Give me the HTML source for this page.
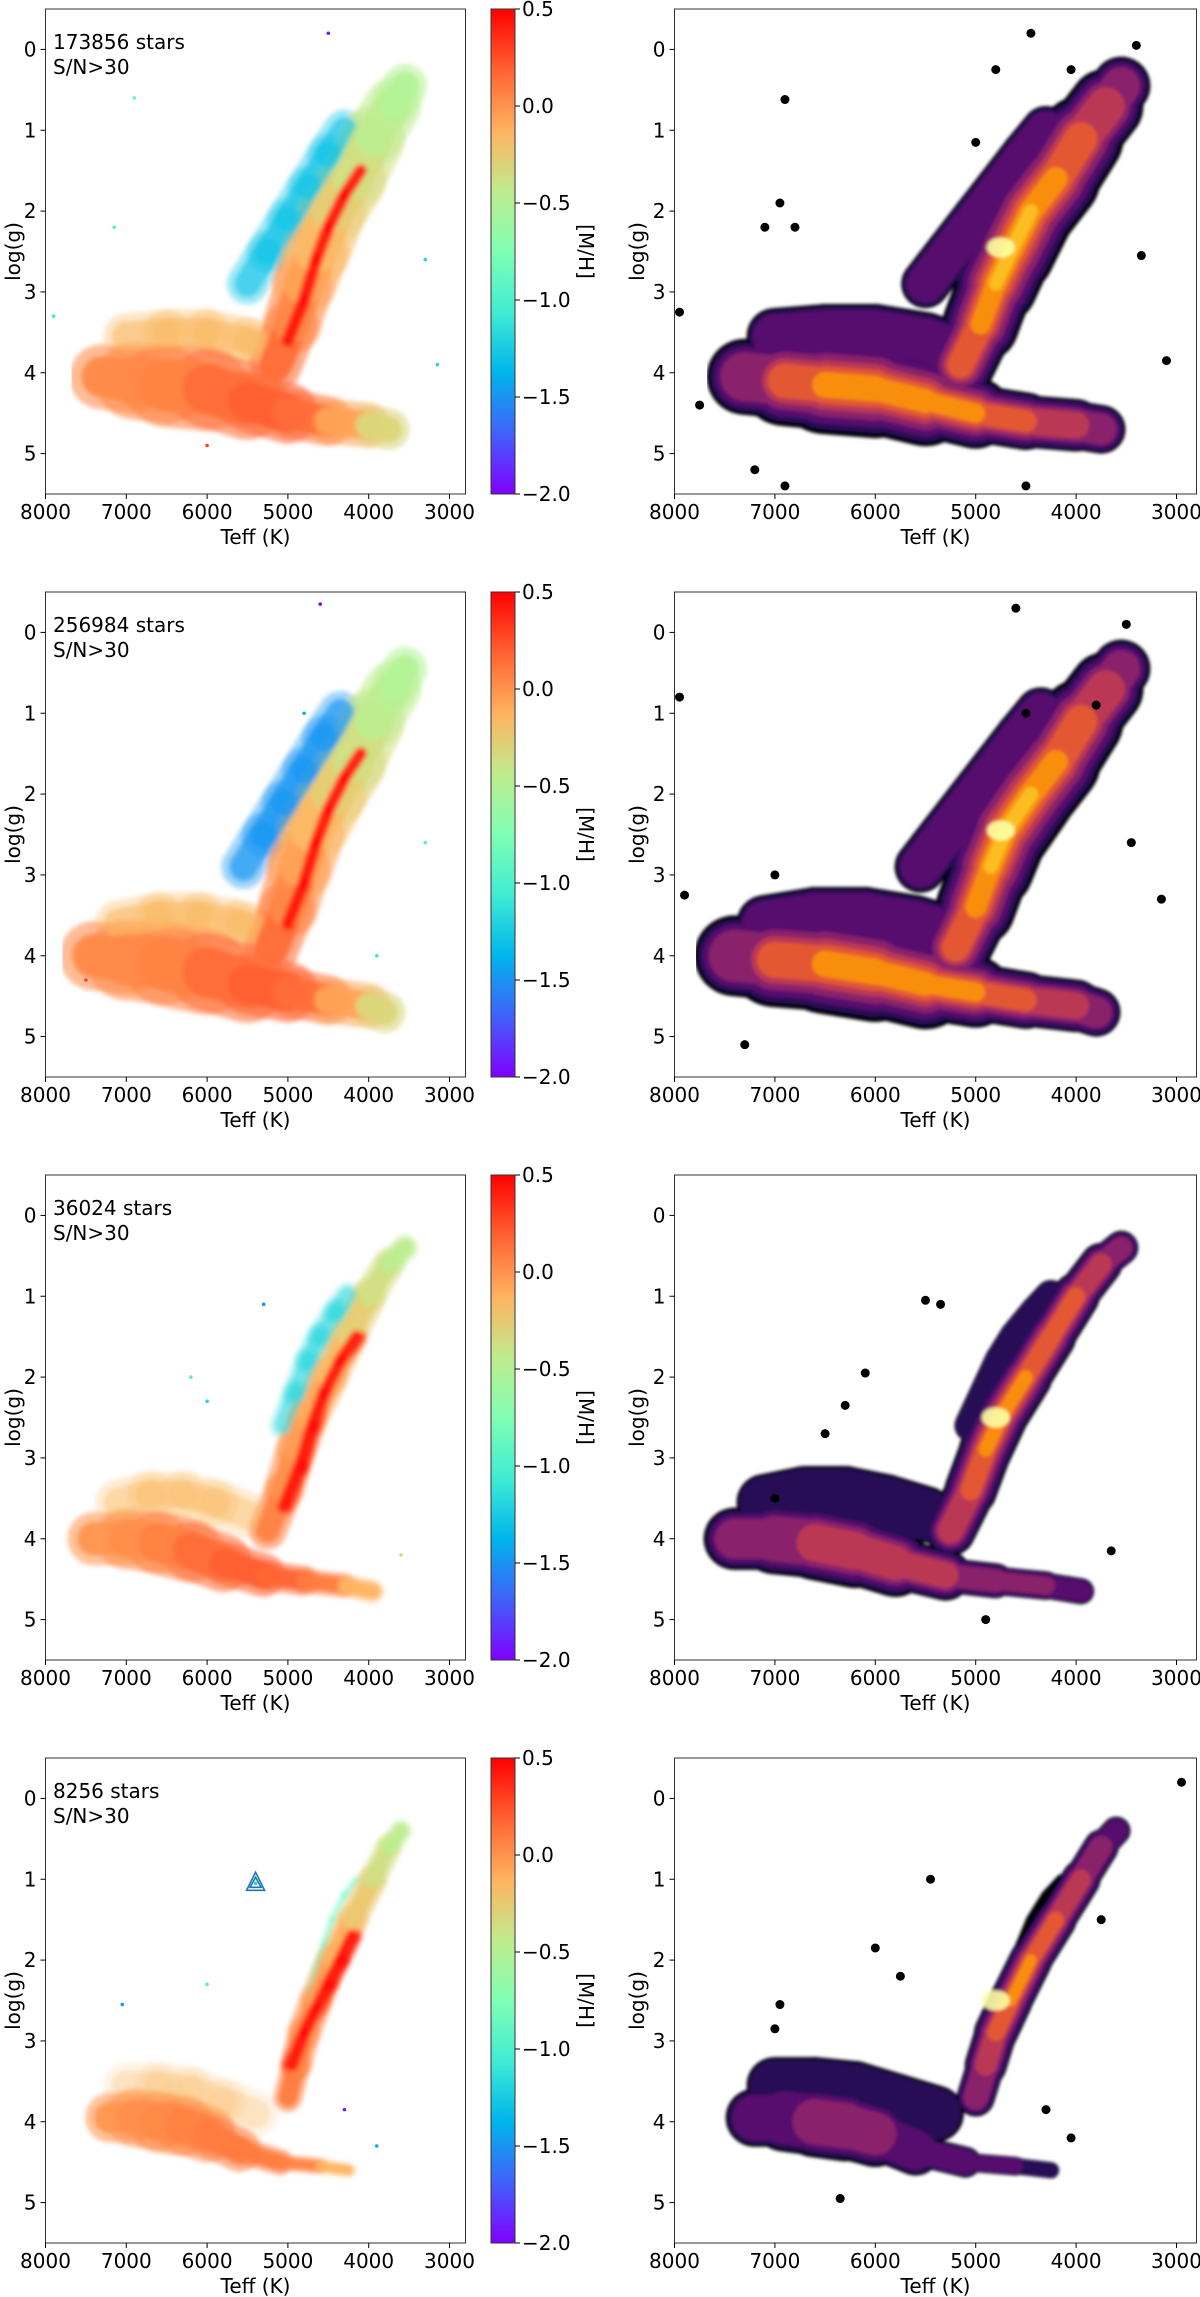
<!DOCTYPE html>
<html><head><meta charset="utf-8">
<style>
html,body{margin:0;padding:0;background:#fff;}
svg{display:block;font-family:"DejaVu Sans","Liberation Sans",sans-serif;}
</style></head>
<body>
<svg id="fig" width="1200" height="2297" viewBox="0 0 1200 2297" xmlns="http://www.w3.org/2000/svg">
<defs>
<linearGradient id="rainbow" x1="0" y1="1" x2="0" y2="0">
<stop offset="0" stop-color="#8000ff"/><stop offset="0.125" stop-color="#4062fa"/>
<stop offset="0.25" stop-color="#00b5eb"/><stop offset="0.375" stop-color="#40ecd3"/>
<stop offset="0.5" stop-color="#80ffb4"/><stop offset="0.625" stop-color="#c0eb8d"/>
<stop offset="0.75" stop-color="#ffb360"/><stop offset="0.875" stop-color="#ff6232"/>
<stop offset="1" stop-color="#ff0000"/>
</linearGradient>
<filter id="soft" x="-10%" y="-10%" width="120%" height="120%"><feGaussianBlur stdDeviation="2.5"/></filter>
<filter id="hexsoft" x="-10%" y="-10%" width="120%" height="120%"><feGaussianBlur stdDeviation="1.5"/></filter>
</defs>
</svg>
<script>
// ---- data (per row: 0..3) ----
const starCounts = ["173856 stars","256984 stars","36024 stars","8256 stars"];
const xTicks = [8000,7000,6000,5000,4000,3000];
const yTicks = [0,1,2,3,4,5];
const cbTicks = [0.5,0.0,-0.5,-1.0,-1.5,-2.0];
const cbTickLabels = ["0.5","0.0","\u22120.5","\u22121.0","\u22121.5","\u22122.0"];

// giant branch ridge
const giantTeff = [
 [5150,4950,4800,4650,4450,4200,3950,3700,3550],
 [5200,5000,4850,4700,4450,4200,3950,3700,3550],
 [5250,5050,4900,4750,4500,4250,4000,3750,3550],
 [5000,4900,4800,4650,4450,4200,3950,3750,3600]];
const giantLogg = [
 [3.9,3.4,2.9,2.5,2.0,1.6,1.1,0.7,0.45],
 [3.9,3.4,2.9,2.45,2.0,1.6,1.1,0.7,0.45],
 [3.9,3.4,2.9,2.5,2.0,1.5,1.0,0.6,0.4],
 [3.7,3.3,2.9,2.5,2.0,1.5,1.0,0.6,0.4]];
const giantWidth = [
 [0.4,0.45,0.5,0.55,0.55,0.55,0.5,0.42,0.3],
 [0.42,0.47,0.52,0.56,0.56,0.55,0.5,0.42,0.3],
 [0.3,0.32,0.33,0.33,0.32,0.3,0.28,0.24,0.18],
 [0.22,0.25,0.27,0.27,0.26,0.25,0.23,0.2,0.15]];
const giantDensity = [
 [0.6,0.78,0.88,1.0,0.88,0.82,0.72,0.55,0.35],
 [0.6,0.78,0.88,1.0,0.88,0.82,0.72,0.55,0.35],
 [0.5,0.65,0.75,0.95,0.8,0.78,0.72,0.55,0.3],
 [0.4,0.55,0.65,0.9,0.75,0.72,0.62,0.45,0.25]];
const giantMetal = [
 [0.2,0.1,0.0,-0.1,-0.2,-0.3,-0.4,-0.5,-0.5],
 [0.2,0.1,0.0,-0.1,-0.2,-0.3,-0.4,-0.5,-0.5],
 [0.1,0.05,0.0,-0.05,-0.1,-0.2,-0.3,-0.4,-0.5],
 [0.1,0.1,0.05,0.0,-0.05,-0.15,-0.3,-0.4,-0.5]];
// metal-rich edge of the giant branch
const redEdgeTeff = [
 [5000,4800,4650,4500,4300,4100],[5000,4800,4650,4500,4300,4100],
 [5050,4850,4700,4550,4350,4150],[4950,4800,4650,4500,4350,4200]];
const redEdgeLogg = [
 [3.6,3.1,2.6,2.2,1.8,1.5],[3.6,3.1,2.6,2.2,1.8,1.5],
 [3.6,3.1,2.6,2.2,1.8,1.5],[3.3,2.9,2.6,2.3,2.0,1.7]];
// metal-poor giant sequence
const poorTeff = [
 [5500,5250,5000,4750,4500,4300],[5550,5300,5050,4800,4550,4350],
 [5050,4900,4750,4600,4400,4250],[4750,4650,4550,4450,4300,4150]];
const poorLogg = [
 [2.9,2.5,2.1,1.7,1.3,1.0],[2.9,2.5,2.1,1.7,1.3,1.0],
 [2.6,2.2,1.8,1.5,1.2,1.0],[2.4,2.1,1.8,1.5,1.2,1.0]];
const poorDensity = [0.32,0.38,0.2,0.1];
const poorMetal = [-1.3,-1.5,-1.2,-0.9];
const poorWidth = [0.3,0.32,0.2,0.06];
// dwarf / main sequence ridge
const dwarfTeff = [
 [7300,6900,6500,6000,5500,5000,4500,4000,3750],
 [7400,7000,6500,6000,5500,5000,4500,4000,3800],
 [7400,7000,6600,6200,5800,5300,4800,4300,3950],
 [7200,6900,6600,6300,6000,5600,5100,4600,4250]];
const dwarfLogg = [
 [4.05,4.1,4.15,4.2,4.35,4.5,4.6,4.65,4.7],
 [4.0,4.05,4.1,4.2,4.35,4.45,4.55,4.62,4.7],
 [4.0,4.0,4.05,4.15,4.3,4.45,4.52,4.58,4.65],
 [3.95,3.95,4.0,4.05,4.15,4.35,4.5,4.55,4.6]];
const dwarfWidth = [
 [0.42,0.52,0.6,0.62,0.5,0.38,0.33,0.32,0.28],
 [0.45,0.55,0.62,0.62,0.5,0.38,0.33,0.32,0.28],
 [0.35,0.42,0.46,0.46,0.38,0.25,0.18,0.17,0.15],
 [0.32,0.4,0.44,0.44,0.38,0.25,0.13,0.1,0.1]];
const dwarfDensity = [
 [0.45,0.65,0.8,0.95,0.85,0.75,0.72,0.6,0.35],
 [0.45,0.65,0.8,0.95,0.85,0.75,0.72,0.6,0.35],
 [0.4,0.5,0.6,0.68,0.62,0.55,0.45,0.4,0.25],
 [0.3,0.38,0.45,0.5,0.45,0.38,0.3,0.22,0.15]];
const dwarfMetal = [
 [0.05,0.05,0.05,0.1,0.2,0.2,0.1,-0.2,-0.4],
 [0.05,0.05,0.05,0.1,0.2,0.2,0.1,-0.2,-0.4],
 [0.0,0.0,0.05,0.1,0.2,0.2,0.15,0.05,-0.3],
 [0.0,0.0,0.05,0.05,0.1,0.1,0.1,0.05,-0.3]];
// sparse subgiant spread above the turnoff
const subTeff = [
 [7000,6500,6000,5500,5150],[7100,6600,6100,5600,5200],
 [7100,6700,6300,5900,5500],[7000,6600,6200,5800,5400]];
const subLogg = [
 [3.55,3.5,3.5,3.6,3.75],[3.6,3.5,3.5,3.6,3.75],
 [3.55,3.45,3.45,3.55,3.7],[3.55,3.55,3.6,3.75,3.9]];
const subDensity = [0.3,0.3,0.22,0.14];
// red clump peak
const clumpTeff = [4750,4750,4800,4800];
const clumpLogg = [2.45,2.45,2.5,2.5];
// hexbin outliers
const outTeff = [
 [6900,4450,3400,7950,3100,3350,6950,7100,6800,7750,7200,6900,4800,4050,5000,4500],
 [7950,4600,3500,7900,3150,3450,7000,7300,4500,3800],
 [5500,5350,3650,6100,6500,7000,6300,4900],
 [2950,5450,6350,6950,7000,6000,5750,4050,4300,3750]];
const outLogg = [
 [0.62,-0.2,-0.05,3.25,3.85,2.55,1.9,2.2,2.2,4.4,5.2,5.4,0.25,0.25,1.15,5.4],
 [0.8,-0.3,-0.1,3.25,3.3,2.6,3.0,5.1,1.0,0.9],
 [1.05,1.1,4.15,1.95,2.7,3.5,2.35,5.0],
 [-0.2,1.0,4.95,2.55,2.85,1.85,2.2,4.2,3.85,1.5]];
// left-panel outlier stars (teff, logg, metallicity)
const starTeff = [[6900,4500,7900,7150,3300,6000,3150],[4600,3300,7500,4800,3900],[5300,6200,3600,6000],[5400,6000,4300,3900,7050]];
const starLogg = [[0.6,-0.2,3.3,2.2,2.6,4.9,3.9],[-0.35,2.6,4.3,1.0,4.0],[1.1,2.0,4.2,2.3],[1.05,2.3,3.85,4.3,2.55]];
const starMetal = [[-0.9,-1.9,-1.1,-1.0,-1.2,0.3,-1.2],[-2.0,-1.0,0.3,-1.4,-1.1],[-1.5,-1.0,-0.3,-1.2],[-1.2,-1.0,-1.9,-1.4,-1.5]];
// special marker in row 4
const markerTeff = 5400, markerLogg = 1.05;

// ---- geometry ----
const NS = "http://www.w3.org/2000/svg";
const svg = document.getElementById('fig');
const rowTop = r => 9 + 583*r;
const AX_H = 485;
const L0 = 45.5, LK = 80.8, R0 = 674.5, RK = 100.4;
const xL = t => L0 + (8000 - t)/1000*LK;
const xR = t => R0 + (8000 - t)/1000*RK;
const yS = (g, r) => rowTop(r) + (g + 0.5)/6*AX_H;
const PXG = AX_H/6;

function el(tag, attrs, parent){
  const e = document.createElementNS(NS, tag);
  for (const k in attrs) e.setAttribute(k, attrs[k]);
  (parent||svg).appendChild(e);
  return e;
}
function rainbow(z){
  let x = Math.max(0, Math.min(1, (z + 2)/2.5));
  const r = Math.min(1, Math.abs(2*x - 0.5)), g = Math.sin(Math.PI*x), b = Math.cos(Math.PI*x/2);
  return `rgb(${Math.round(r*255)},${Math.round(g*255)},${Math.round(b*255)})`;
}
const infernoLayers = [
  {c:'#000004', f:1.00, th:0.0},
  {c:'#280b54', f:0.90, th:0.12},
  {c:'#56106e', f:0.78, th:0.25},
  {c:'#89226a', f:0.64, th:0.42},
  {c:'#bb3754', f:0.50, th:0.56},
  {c:'#e35933', f:0.38, th:0.68},
  {c:'#f98e09', f:0.26, th:0.8},
  {c:'#fbbe23', f:0.16, th:0.9}];

function drawHex(g, r, ridges){
  for (const L of infernoLayers){
    for (const rd of ridges){
      for (let i=0;i<rd.T.length-1;i++){
        const d = (rd.D[i]+rd.D[i+1])/2;
        if (d < L.th) continue;
        const w = (rd.W[i]+rd.W[i+1])/2*2*PXG*L.f;
        const seg = el('line',{x1:xR(rd.T[i]),y1:yS(rd.G[i],r),x2:xR(rd.T[i+1]),y2:yS(rd.G[i+1],r),
          stroke:L.c,'stroke-width':w.toFixed(1),'stroke-linecap':'round'}, g);
        
        
      }
    }
  }
}
function drawScatter(g, r, ridges){
  for (let pass=0; pass<2; pass++){
    for (const rd of ridges){
      for (let i=0;i<rd.T.length-1;i++){
        const w = (rd.W[i]+rd.W[i+1])/2*2*PXG*(pass?0.6:0.95);
        const seg = el('line',{x1:xL(rd.T[i]),y1:yS(rd.G[i],r),x2:xL(rd.T[i+1]),y2:yS(rd.G[i+1],r),
          stroke:rainbow((rd.Z[i]+rd.Z[i+1])/2),'stroke-width':w.toFixed(1),'stroke-linecap':'round',
          opacity:(pass?rd.op:rd.op*0.6)}, g);
        
        
      }
    }
  }
}
function txt(s, x, y, attrs, parent){
  const t = el('text', Object.assign({x:x, y:y, 'font-size':20, fill:'#000'}, attrs||{}), parent);
  t.textContent = s;
  return t;
}
function axes(r, side){
  const left = side==='L';
  const x0 = left ? L0 : R0, x1 = left ? 465.5 : 1196.5;
  const top = rowTop(r), bot = top + AX_H;
  const fx = left ? xL : xR;
  const g = el('g',{});
  
  
  const frame = el('rect',{x:x0,y:top,width:x1-x0,height:AX_H,fill:'none',stroke:'#333','stroke-width':1}, g);
  
  
  xTicks.forEach(t=>{
    const x = fx(t);
    el('line',{x1:x,y1:bot,x2:x,y2:bot+5,stroke:'#000','stroke-width':1}, g);
    const lbl = txt(String(t), x, bot+25, {'text-anchor':'middle'}, g);
    
    
  });
  yTicks.forEach(v=>{
    const y = yS(v, r);
    el('line',{x1:x0-5,y1:y,x2:x0,y2:y,stroke:'#000','stroke-width':1}, g);
    const lbl = txt(String(v), x0-9, y+7, {'text-anchor':'end'}, g);
    
    
  });
  const xl = txt('Teff (K)', (x0+x1)/2, bot+50, {'text-anchor':'middle'}, g);
  
  
  const yx = left ? 13 : 637, yy = top + AX_H*0.5;
  const yl = txt('log(g)', yx, yy, {'text-anchor':'middle', transform:`rotate(-90 ${yx} ${yy})`, dy:'7'}, g);
  
  
}
function colorbar(r){
  const top = rowTop(r);
  const g = el('g',{});
  
  
  el('rect',{x:491,y:top,width:24,height:AX_H,fill:'url(#rainbow)',stroke:'#333','stroke-width':1}, g);
  cbTicks.forEach((v,i)=>{
    const y = top + (0.5 - v)/2.5*AX_H;
    el('line',{x1:515,y1:y,x2:520,y2:y,stroke:'#000'}, g);
    const lbl = txt(cbTickLabels[i], 522, y+7, {}, g);
    
    
  });
  const cx = 586, cy = top + AX_H/2;
  const lbl = txt('[M/H]', cx, cy, {'text-anchor':'middle', transform:`rotate(90 ${cx} ${cy})`, dy:'7'}, g);
  
  
}

for (let r=0;r<4;r++){
  const fill = (arr, v) => arr.map(()=>v);
  // ---- left scatter ----
  const clipL = el('clipPath',{id:'clipL'+r});
  el('rect',{x:L0,y:rowTop(r),width:465.5-L0,height:AX_H}, clipL);
  const gl = el('g',{'clip-path':`url(#clipL${r})`});
  
  
  const gs = el('g',{filter:'url(#soft)'}, gl);
  drawScatter(gs, r, [
    {T:subTeff[r], G:subLogg[r], W:fill(subTeff[r],0.3), Z:fill(subTeff[r],-0.15), op:subDensity[r]*2},
    {T:poorTeff[r], G:poorLogg[r], W:fill(poorTeff[r],poorWidth[r]*0.9), Z:fill(poorTeff[r],poorMetal[r]), op:0.3+poorDensity[r]},
    {T:dwarfTeff[r], G:dwarfLogg[r], W:dwarfWidth[r].map(w=>w*0.9), Z:dwarfMetal[r], op:0.95},
    {T:giantTeff[r], G:giantLogg[r], W:giantWidth[r].map(w=>w*0.8), Z:giantMetal[r], op:0.95},
    {T:redEdgeTeff[r], G:redEdgeLogg[r], W:fill(redEdgeTeff[r],0.13), Z:fill(redEdgeTeff[r],0.45), op:0.9}
  ]);
  starTeff[r].forEach((t,i)=>{
    const c = el('circle',{cx:xL(t),cy:yS(starLogg[r][i],r),r:1.8,fill:rainbow(starMetal[r][i])}, gl);
    
    
  });
  axes(r,'L');
  colorbar(r);
  const a1 = txt(starCounts[r], 53, rowTop(r)+40, {});
  
  
  const a2 = txt('S/N>30', 53, rowTop(r)+65, {});
  
  

  // ---- right hexbin ----
  const clipR = el('clipPath',{id:'clipR'+r});
  el('rect',{x:R0,y:rowTop(r),width:1196.5-R0,height:AX_H}, clipR);
  const gr = el('g',{'clip-path':`url(#clipR${r})`});
  
  
  const gh = el('g',{filter:'url(#hexsoft)'}, gr);
  drawHex(gh, r, [
    {T:subTeff[r], G:subLogg[r], W:fill(subTeff[r],0.35), D:fill(subTeff[r],subDensity[r])},
    {T:poorTeff[r], G:poorLogg[r], W:fill(poorTeff[r],poorWidth[r]), D:fill(poorTeff[r],poorDensity[r])},
    {T:dwarfTeff[r], G:dwarfLogg[r], W:dwarfWidth[r], D:dwarfDensity[r]},
    {T:giantTeff[r], G:giantLogg[r], W:giantWidth[r], D:giantDensity[r]}
  ]);
  const cl = el('ellipse',{cx:xR(clumpTeff[r]),cy:yS(clumpLogg[r],r),rx:14,ry:10,fill:'#fcffa4',opacity:0.9}, gh);
  
  
  outTeff[r].forEach((t,i)=>{
    const c = el('circle',{cx:xR(t),cy:yS(outLogg[r][i],r),r:4.5,fill:'#000004'}, gr);
    
    
  });
  axes(r,'R');
}
// marker triangle in row 4
{
  const x = xL(markerTeff), y = yS(markerLogg, 3);
  const g = el('g',{fill:'none',stroke:'#1f77b4','stroke-width':1.6});
  
  
  el('polygon',{points:`${x},${y-11} ${x-9},${y+7} ${x+9},${y+7}`}, g);
  el('polygon',{points:`${x},${y-6} ${x-5.5},${y+4} ${x+5.5},${y+4}`}, g);
}
</script>
</body></html>
